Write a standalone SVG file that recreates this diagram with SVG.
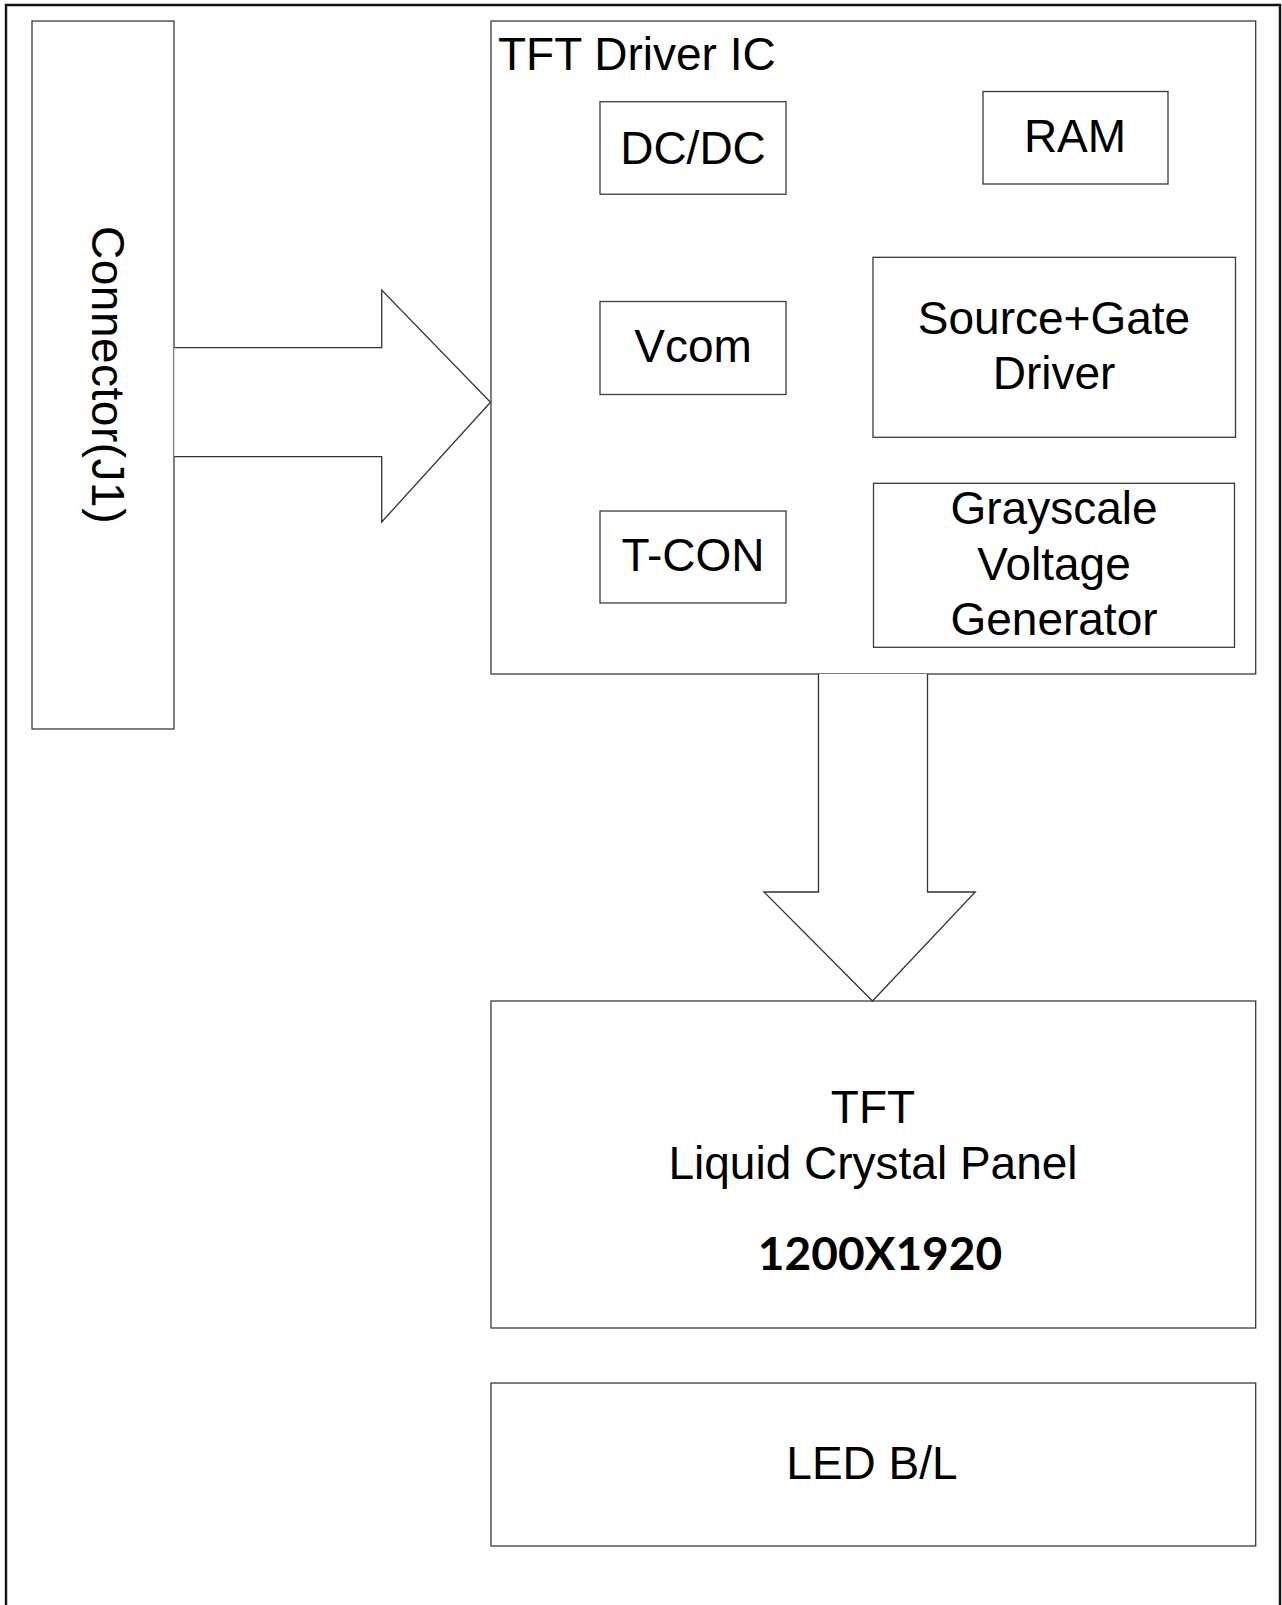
<svg xmlns="http://www.w3.org/2000/svg" width="1282" height="1605" viewBox="0 0 1282 1605">
<style>
.box{fill:#fff;stroke:#3a3a3a;stroke-width:1.3}
.lbl{font-family:"Liberation Sans",Arial,sans-serif;font-size:46px;fill:#000;text-anchor:middle}
.conn{fill:#fff;stroke:#333;stroke-width:1.3}
</style>
<rect width="1282" height="1605" fill="#fff"/>
<path d="M6,1610 V5 H1280 V1610" fill="none" stroke="#111" stroke-width="2.4"/>
<g id="connector">
<rect class="box" x="32" y="21" width="142" height="708"/>
<text class="lbl" transform="translate(92,375) rotate(90)" style="letter-spacing:0.5px">Connector(J1)</text>
</g>
<g id="driver-ic">
<rect class="box" x="491" y="21" width="764.7" height="653"/>
<text class="lbl" x="498" y="70" style="text-anchor:start">TFT Driver IC</text>
</g>
<g id="dcdc">
<rect class="box" x="600" y="101.7" width="186" height="92.5"/>
<text class="lbl" x="693" y="164">DC/DC</text>
</g>
<g id="ram">
<rect class="box" x="983" y="91.5" width="185" height="92.5"/>
<text class="lbl" x="1075" y="151.5">RAM</text>
</g>
<g id="vcom">
<rect class="box" x="600" y="301.5" width="186" height="93"/>
<text class="lbl" x="693" y="362">Vcom</text>
</g>
<g id="tcon">
<rect class="box" x="600" y="511" width="186" height="92"/>
<text class="lbl" x="693" y="571">T-CON</text>
</g>
<g id="source-gate">
<rect class="box" x="873" y="257.3" width="362.5" height="180"/>
<text class="lbl" x="1054" y="334">Source+Gate</text>
<text class="lbl" x="1054" y="389">Driver</text>
</g>
<g id="grayscale">
<rect class="box" x="873.5" y="483.3" width="361" height="164"/>
<text class="lbl" x="1054" y="524">Grayscale</text>
<text class="lbl" x="1054" y="579.5">Voltage</text>
<text class="lbl" x="1054" y="634.5">Generator</text>
</g>
<g id="panel">
<rect class="box" x="491" y="1001" width="764.7" height="327"/>
<text class="lbl" x="873" y="1123">TFT</text>
<text class="lbl" x="873" y="1179">Liquid Crystal Panel</text>
<text x="880" y="1270" style="font-family:Lato,'Liberation Sans',sans-serif;font-weight:bold;font-size:46px;text-anchor:middle;fill:#000">1200X1920</text>
</g>
<g id="led-bl">
<rect class="box" x="491" y="1383" width="764.7" height="163"/>
<text class="lbl" x="872" y="1479">LED B/L</text>
</g>
<g id="connectors">
<path class="conn" d="M174.3,347.7 H381.7 V290 L490.5,402.3 L381.7,522 V456.7 H174.3"/>
<path class="conn" d="M818.5,674 V892 H764 L872.5,1001 L975.3,892 H927.5 V674"/>
</g>
</svg>
